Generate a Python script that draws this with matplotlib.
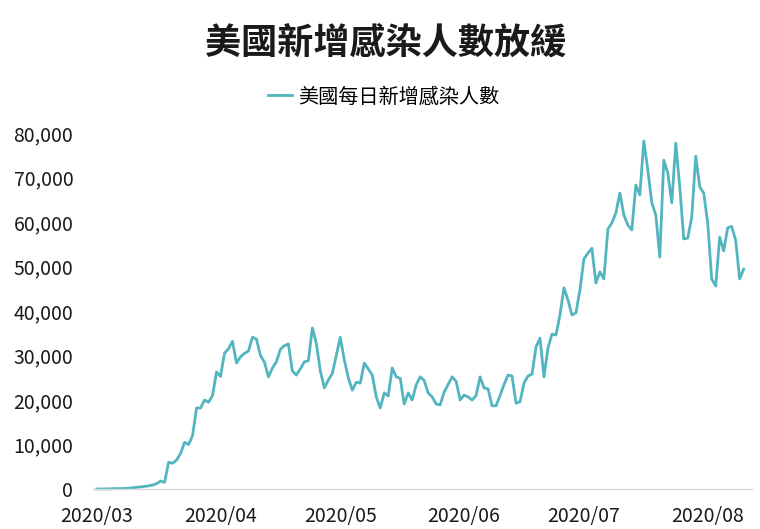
import numpy as np
import pandas as pd
import matplotlib
matplotlib.use("Agg")
import matplotlib.pyplot as plt
import matplotlib.dates as mdates
from matplotlib.ticker import FuncFormatter

plt.rcParams['font.family'] = ['Noto Sans CJK TC', 'DejaVu Sans']

# daily new cases, 2020/03/01 - 2020/08/10
mar = [0, 20, 20, 30, 70, 80, 100, 120, 170, 290,
       400, 450, 600, 700, 900, 1200, 1800, 1500, 6000, 5800,
       6500, 8000, 10500, 10000, 12000, 18200, 18200, 20000, 19500, 21000,
       26300]
apr = [25300, 30500, 31500, 33200, 28300, 29700, 30500, 31000, 34100, 33700,
       30000, 28500, 25200, 27200, 28600, 31400, 32200, 32600, 26500, 25600,
       27000, 28600, 28800, 36200, 32700, 26500, 22700, 24500, 26000, 30000]
may = [34100, 29000, 25000, 22200, 24000, 23800, 28300, 27000, 25600, 20700,
       18200, 21600, 20900, 27200, 25200, 24900, 19100, 21600, 20000, 23400,
       25200, 24400, 21600, 20700, 19100, 18900, 21800, 23500, 25200, 24200,
       20000]
jun = [21100, 20700, 20000, 21000, 25200, 22700, 22500, 18700, 18700, 21000,
       23500, 25600, 25400, 19300, 19600, 23800, 25400, 25800, 31900, 33900,
       25200, 31700, 34800, 34600, 39100, 45200, 42500, 39100, 39600, 44700]
jul = [51700, 53000, 54100, 46300, 48800, 47200, 58400, 59800, 62000, 66500,
       61600, 59300, 58200, 68300, 66100, 78200, 71700, 64300, 61600, 52100,
       73900, 71000, 64300, 77700, 67900, 56200, 56400, 61100, 74800, 67900,
       66500]
aug = [59800, 47200, 45600, 56600, 53500, 58700, 59000, 55900, 47200, 49400]

cases = mar + apr + may + jun + jul + aug
dates = pd.date_range('2020-03-01', periods=len(cases), freq='D')

title = '美國新增感染人數放緩'
label = '美國每日新增感染人數'
color = '#52b5c0'

fig = plt.figure(figsize=(7.6, 5.29), dpi=100)
ax = fig.add_axes([0.122, 0.0756, 0.867, 0.673])

ax.plot(dates, cases, color=color, linewidth=2.0, label=label, clip_on=False)

ax.set_ylim(0, 80000)
ax.set_yticks(np.arange(0, 80001, 10000))
ax.yaxis.set_major_formatter(FuncFormatter(lambda v, p: f'{int(v):,}'))
ax.set_xlim(pd.Timestamp('2020-02-29'), pd.Timestamp('2020-08-12'))
ax.xaxis.set_major_locator(mdates.MonthLocator())
ax.xaxis.set_major_formatter(mdates.DateFormatter('%Y/%m'))

for s in ['top', 'right', 'left']:
    ax.spines[s].set_visible(False)
ax.spines['bottom'].set_color('#d9d9d9')
ax.spines['bottom'].set_linewidth(1.0)
ax.tick_params(axis='y', length=0, pad=14, labelsize=14, labelcolor='#1a1a1a')
ax.tick_params(axis='x', length=0, pad=12, labelsize=14, labelcolor='#1a1a1a')

fig.text(0.507, 0.918, title, ha='center', va='center', fontsize=26,
         fontweight='bold', color='#1a1a1a')
fig.legend(loc='center', bbox_to_anchor=(0.505, 1 - 97 / 529), frameon=False,
           fontsize=14.5, handlelength=1.2, handletextpad=0.3)

fig.savefig('out.png', dpi=100)
